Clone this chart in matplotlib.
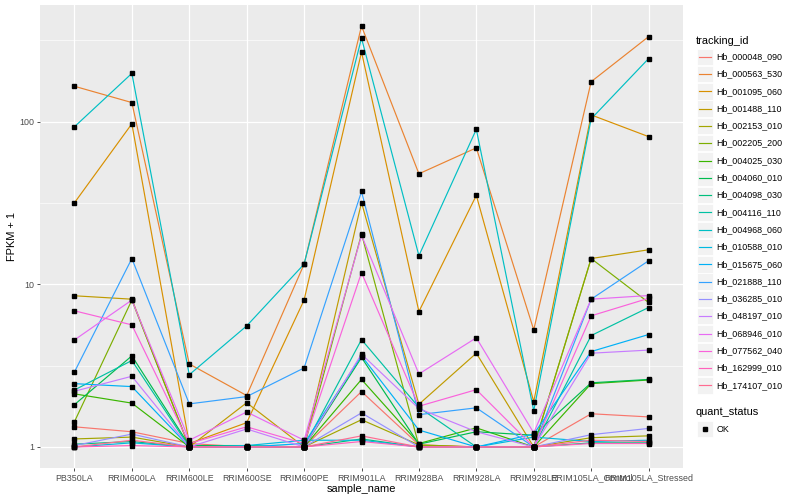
import numpy as np
import matplotlib
matplotlib.use("Agg")
import matplotlib.pyplot as plt
from matplotlib.lines import Line2D
from matplotlib.patches import Rectangle

plt.rcParams['font.family'] = ['Liberation Sans', 'DejaVu Sans']

samples = ["PB350LA", "RRIM600LA", "RRIM600LE", "RRIM600SE", "RRIM600PE",
           "RRIM901LA", "RRIM928BA", "RRIM928LA", "RRIM928LE",
           "RRIM105LA_Control", "RRIM105LA_Stressed"]

tracking_ids = ["Hb_000048_090", "Hb_000563_530", "Hb_001095_060", "Hb_001488_110",
                "Hb_002153_010", "Hb_002205_200", "Hb_004025_030", "Hb_004060_010",
                "Hb_004098_030", "Hb_004116_110", "Hb_004968_060", "Hb_010588_010",
                "Hb_015675_060", "Hb_021888_110", "Hb_036285_010", "Hb_048197_010",
                "Hb_068946_010", "Hb_077562_040", "Hb_162999_010", "Hb_174107_010"]

# ggplot hue palette for 20 levels
colors = ["#F8766D", "#EA8331", "#D89000", "#C09B00", "#A3A500", "#7CAE00", "#39B600",
          "#00BB4E", "#00BF7D", "#00C1A3", "#00BFC4", "#00BAE0", "#00B0F6", "#35A2FF",
          "#9590FF", "#C77CFF", "#E76BF3", "#FA62DB", "#FF62BC", "#FF6C91"]

# FPKM + 1, one row per tracking_id, columns follow samples
hb_000048_090 = [1.33, 1.24, 1.05, 1.0, 1.0, 2.19, 1.03, 1.0, 1.0, 1.6, 1.53]
hb_000563_530 = [165, 131, 3.24, 2.07, 13.3, 387, 47.8, 69, 5.25, 176, 333]
hb_001095_060 = [31.7, 97, 1.05, 1.41, 8.0, 268, 6.8, 35.2, 1.9, 110, 80.9]
hb_001488_110 = [8.5, 8.1, 1.0, 1.87, 1.0, 31.8, 1.83, 3.77, 1.0, 14.4, 16.3]
hb_002153_010 = [1.12, 1.15, 1.0, 1.0, 1.0, 1.47, 1.03, 1.0, 1.0, 1.14, 1.17]
hb_002205_200 = [1.43, 8.0, 1.0, 1.0, 1.0, 20.4, 1.02, 1.0, 1.0, 14.4, 7.73]
hb_004025_030 = [2.12, 1.86, 1.0, 1.0, 1.0, 2.6, 1.05, 1.31, 1.0, 2.45, 2.58]
hb_004060_010 = [1.82, 3.63, 1.02, 1.02, 1.0, 3.55, 1.04, 1.24, 1.18, 2.48, 2.6]
hb_004098_030 = [1.04, 1.08, 1.0, 1.0, 1.0, 1.12, 1.0, 1.0, 1.0, 1.06, 1.06]
hb_004116_110 = [2.24, 3.4, 1.0, 1.0, 1.0, 4.57, 1.75, 1.0, 1.0, 4.84, 7.2]
hb_004968_060 = [93, 198, 2.78, 5.55, 13.3, 326, 15.0, 89.7, 1.67, 104, 244]
hb_010588_010 = [1.0, 1.06, 1.0, 1.02, 1.1, 1.1, 1.0, 1.0, 1.15, 1.08, 1.1]
hb_015675_060 = [2.45, 2.35, 1.0, 1.0, 1.05, 3.63, 1.27, 1.0, 1.2, 3.86, 4.91]
hb_021888_110 = [2.89, 14.4, 1.84, 2.04, 3.06, 37.2, 1.58, 1.74, 1.0, 8.1, 13.95]
hb_036285_010 = [1.02, 1.2, 1.0, 1.0, 1.0, 1.62, 1.0, 1.0, 1.0, 1.19, 1.30]
hb_048197_010 = [2.2, 2.72, 1.0, 1.29, 1.0, 3.72, 1.72, 1.24, 1.0, 3.77, 3.94]
hb_068946_010 = [4.55, 8.0, 1.1, 1.64, 1.1, 20.0, 2.81, 4.69, 1.22, 8.1, 8.53]
hb_077562_040 = [6.87, 5.63, 1.05, 1.33, 1.05, 11.8, 1.78, 2.25, 1.0, 6.4, 8.2]
hb_162999_010 = [1.0, 1.02, 1.0, 1.0, 1.0, 1.08, 1.0, 1.0, 1.0, 1.05, 1.05]
hb_174107_010 = [1.0, 1.1, 1.0, 1.0, 1.0, 1.17, 1.0, 1.0, 1.0, 1.1, 1.08]

values = [hb_000048_090, hb_000563_530, hb_001095_060, hb_001488_110, hb_002153_010,
          hb_002205_200, hb_004025_030, hb_004060_010, hb_004098_030, hb_004116_110,
          hb_004968_060, hb_010588_010, hb_015675_060, hb_021888_110, hb_036285_010,
          hb_048197_010, hb_068946_010, hb_077562_040, hb_162999_010, hb_174107_010]

W, H = 800, 500
fig = plt.figure(figsize=(W / 100, H / 100), dpi=100)


def px(x, y):
    # pixel coords (from top left) -> figure fraction
    return x / W, 1 - y / H


left, right, top, bottom = 40, 683, 5, 468
ax = fig.add_axes([left / W, 1 - bottom / H, (right - left) / W, (bottom - top) / H])
ax.set_facecolor("#EBEBEB")
for s in ax.spines.values():
    s.set_visible(False)

x = np.arange(1, len(samples) + 1)
for vals, col in zip(values, colors):
    ax.plot(x, vals, color=col, lw=0.85, zorder=2)
for vals in values:
    ax.plot(x, vals, ls="none", marker="s", ms=2.4, color="black", zorder=3)

ax.set_yscale("log")
lo = 0.0
hi = np.log10(max(max(v) for v in values))
pad = (hi - lo) * 0.05
ax.set_ylim(10 ** (lo - pad), 10 ** (hi + pad))
ax.set_xlim(0.4, len(samples) + 0.6)

ax.set_yticks([1, 10, 100])
ax.set_yticklabels(["1", "10", "100"])
ax.yaxis.set_minor_locator(matplotlib.ticker.FixedLocator([10 ** 0.5, 10 ** 1.5, 10 ** 2.5]))
ax.yaxis.set_minor_formatter(matplotlib.ticker.NullFormatter())
ax.set_xticks(x)
ax.set_xticklabels(samples)

ax.grid(True, which="major", color="white", lw=0.9, zorder=0)
ax.grid(True, which="minor", axis="y", color="white", lw=0.45, zorder=0)
ax.set_axisbelow(True)
ax.tick_params(which="major", length=2.5, width=0.6, color="#333333",
               labelsize=6.4, labelcolor="#4D4D4D", pad=1.5)
ax.tick_params(which="minor", length=0)

ax.set_xlabel("sample_name", fontsize=7.9, labelpad=1)
ax.set_ylabel("FPKM + 1", fontsize=7.9, labelpad=1.5)

# legend: tracking_id
fig.text(*px(696, 40.7), "tracking_id", fontsize=7.9, va="center", ha="left")
key_h = 17.3
y0 = 56.7
for i, (tid, col) in enumerate(zip(tracking_ids, colors)):
    yc = y0 + i * key_h
    fig.patches.append(Rectangle(px(697, yc + 8.2), 16 / W, 16.4 / H,
                                 transform=fig.transFigure, facecolor="#F2F2F2",
                                 edgecolor="white", lw=0.6))
    fig.lines.append(Line2D([699 / W, 711 / W], [1 - yc / H] * 2,
                            transform=fig.transFigure, color=col, lw=0.85))
    fig.text(*px(716.5, yc), tid, fontsize=6.4, va="center", ha="left")

# legend: quant_status
fig.text(*px(696, 412.3), "quant_status", fontsize=7.9, va="center", ha="left")
fig.patches.append(Rectangle(px(697, 429 + 8.2), 16 / W, 16.4 / H,
                             transform=fig.transFigure, facecolor="#F2F2F2",
                             edgecolor="white", lw=0.6))
fig.lines.append(Line2D([705 / W], [1 - 429 / H], transform=fig.transFigure,
                        ls="none", marker="s", ms=2.4, color="black"))
fig.text(*px(716.5, 429), "OK", fontsize=6.4, va="center", ha="left")

fig.savefig("out.png", dpi=100)
